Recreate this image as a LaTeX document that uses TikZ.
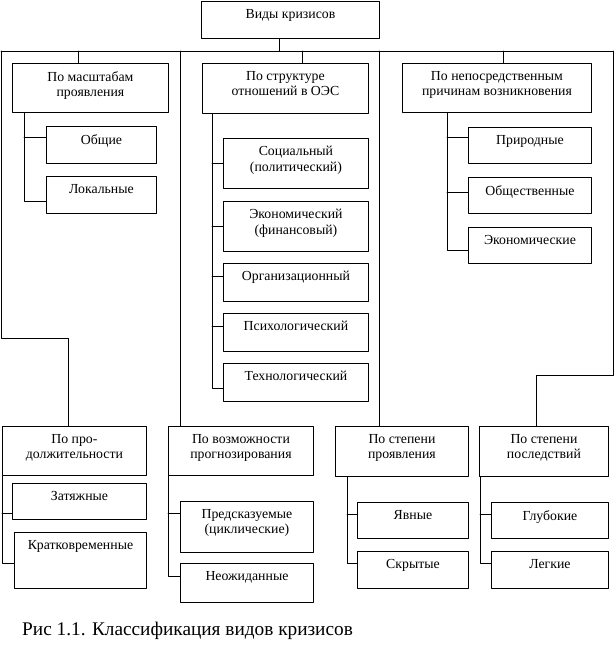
\documentclass[tikz,border=0pt]{standalone}
\usepackage{fontspec}
\setmainfont{Liberation Serif}
\usepackage{tikz}
\usetikzlibrary{positioning}

\tikzset{
  kbox/.style={draw,line width=0.9pt,inner sep=0pt,anchor=north west},
  ktxt/.style={inner sep=0pt,align=center,font=\fontsize{13.8}{15.5}\selectfont},
  kline/.style={line width=0.9pt}
}

\begin{document}
\begin{tikzpicture}[line cap=round,line join=round,x=1pt,y=-1pt]
\useasboundingbox (0,0) rectangle (614,651);
% main box
\node[kbox,minimum width=178pt,minimum height=37pt] (kr) at (201,1) {};
\node[ktxt,below=8pt of kr.north] (kr-t) {Виды кризисов};
% upper row
\node[kbox,minimum width=156pt,minimum height=49pt] (m1) at (12,63) {};
\node[ktxt,below=8pt of m1.north] (m1-t) {По масштабам\\проявления};
\node[kbox,minimum width=166pt,minimum height=50pt] (m2) at (202,63) {};
\node[ktxt,below=8pt of m2.north] (m2-t) {По структуре\\отношений в ОЭС};
\node[kbox,minimum width=189pt,minimum height=49pt] (m3) at (402,63) {};
\node[ktxt,below=8pt of m3.north] (m3-t) {По непосредственным\\причинам возникновения};
% sub boxes of m1
\node[kbox,minimum width=110pt,minimum height=37pt] (a1) at (46,126) {};
\node[ktxt,below=8pt of a1.north] (a1-t) {Общие};
\node[kbox,minimum width=110pt,minimum height=37pt] (a2) at (46,176) {};
\node[ktxt,below=8pt of a2.north] (a2-t) {Локальные};
% sub boxes of m2
\node[kbox,minimum width=145pt,minimum height=50pt] (b1) at (223,138) {};
\node[ktxt,below=8pt of b1.north] (b1-t) {Социальный\\(политический)};
\node[kbox,minimum width=145pt,minimum height=50pt] (b2) at (223,201) {};
\node[ktxt,below=8pt of b2.north] (b2-t) {Экономический\\(финансовый)};
\node[kbox,minimum width=145pt,minimum height=38pt] (b3) at (223,263) {};
\node[ktxt,below=8pt of b3.north] (b3-t) {Организационный};
\node[kbox,minimum width=145pt,minimum height=38pt] (b4) at (223,313) {};
\node[ktxt,below=8pt of b4.north] (b4-t) {Психологический};
\node[kbox,minimum width=145pt,minimum height=38pt] (b5) at (223,363) {};
\node[ktxt,below=8pt of b5.north] (b5-t) {Технологический};
% sub boxes of m3
\node[kbox,minimum width=123pt,minimum height=36pt] (c1) at (468,127) {};
\node[ktxt,below=8pt of c1.north] (c1-t) {Природные};
\node[kbox,minimum width=123pt,minimum height=36pt] (c2) at (468,177) {};
\node[ktxt,below=8pt of c2.north] (c2-t) {Общественные};
\node[kbox,minimum width=123pt,minimum height=36pt] (c3) at (468,227) {};
\node[ktxt,below=8pt of c3.north] (c3-t) {Экономические};
% lower row
\node[kbox,minimum width=144pt,minimum height=49pt] (n1) at (2,426) {};
\node[ktxt,below=8pt of n1.north] (n1-t) {По про-\\должительности};
\node[kbox,minimum width=145pt,minimum height=49pt] (n2) at (168,426) {};
\node[ktxt,below=8pt of n2.north] (n2-t) {По возможности\\прогнозирования};
\node[kbox,minimum width=133pt,minimum height=50pt] (n3) at (335,426) {};
\node[ktxt,below=8pt of n3.north] (n3-t) {По степени\\проявления};
\node[kbox,minimum width=129pt,minimum height=50pt] (n4) at (479,426) {};
\node[ktxt,below=8pt of n4.north] (n4-t) {По степени\\последствий};
% sub boxes of lower row
\node[kbox,minimum width=134pt,minimum height=36pt] (d1) at (12,483) {};
\node[ktxt,below=8pt of d1.north] (d1-t) {Затяжные};
\node[kbox,minimum width=132pt,minimum height=56pt] (d2) at (14,532) {};
\node[ktxt,below=8pt of d2.north] (d2-t) {Кратковременные};
\node[kbox,minimum width=133pt,minimum height=51pt] (e1) at (180,501) {};
\node[ktxt,below=8pt of e1.north] (e1-t) {Предсказуемые\\(циклические)};
\node[kbox,minimum width=133pt,minimum height=39pt] (e2) at (180,563) {};
\node[ktxt,below=8pt of e2.north] (e2-t) {Неожиданные};
\node[kbox,minimum width=111pt,minimum height=36pt] (f1) at (357,502) {};
\node[ktxt,below=8pt of f1.north] (f1-t) {Явные};
\node[kbox,minimum width=111pt,minimum height=37pt] (f2) at (357,551) {};
\node[ktxt,below=8pt of f2.north] (f2-t) {Скрытые};
\node[kbox,minimum width=117pt,minimum height=36pt] (g1) at (491,502) {};
\node[ktxt,below=8pt of g1.north] (g1-t) {Глубокие};
\node[kbox,minimum width=117pt,minimum height=37pt] (g2) at (491,551) {};
\node[ktxt,below=8pt of g2.north] (g2-t) {Легкие};
% caption
\node[inner sep=0pt,anchor=base west,font=\fontsize{19.3}{22}\selectfont] (cap) at (22,635) {Рис 1.1. Классификация видов кризисов};

% bus
\coordinate (bus-l) at (1,51);
\coordinate (bus-r) at (613,51);
\coordinate (kr-j) at (279,51);
\coordinate (m1-j) at (78,51);
\coordinate (m2-j) at (302,51);
\coordinate (m3-j) at (503,51);
\draw[kline] (bus-l) -- (bus-r);
\draw[kline] (kr.south -| kr-j) -- (kr-j);
\draw[kline] (m1-j) -- (m1.north -| m1-j);
\draw[kline] (m2-j) -- (m2.north -| m2-j);
\draw[kline] (m3-j) -- (m3.north -| m3-j);
% down to lower row
\coordinate (n1-k) at (1,338);
\coordinate (n1-j) at (68,338);
\coordinate (n2-j) at (180,51);
\coordinate (n3-j) at (379,51);
\coordinate (n4-k) at (613,375);
\coordinate (n4-j) at (536,375);
\draw[kline] (bus-l) -- (n1-k) -- (n1-j) -- (n1.north -| n1-j);
\draw[kline] (n2-j) -- (n2.north -| n2-j);
\draw[kline] (n3-j) -- (n3.north -| n3-j);
\draw[kline] (bus-r) -- (n4-k) -- (n4-j) -- (n4.north -| n4-j);
% spines, upper row
\coordinate (a1-j) at (24,137);
\coordinate (a2-j) at (24,201);
\draw[kline] (m1.south -| a2-j) -- (a2-j) -- (a2.west |- a2-j);
\draw[kline] (a1-j) -- (a1.west |- a1-j);
\coordinate (b1-j) at (212,163);
\coordinate (b2-j) at (212,226);
\coordinate (b3-j) at (212,276);
\coordinate (b4-j) at (212,326);
\coordinate (b5-j) at (212,388);
\draw[kline] (m2.south -| b5-j) -- (b5-j) -- (b5.west |- b5-j);
\draw[kline] (b1-j) -- (b1.west |- b1-j);
\draw[kline] (b2-j) -- (b2.west |- b2-j);
\draw[kline] (b3-j) -- (b3.west |- b3-j);
\draw[kline] (b4-j) -- (b4.west |- b4-j);
\coordinate (c1-j) at (447,137);
\coordinate (c2-j) at (447,192);
\coordinate (c3-j) at (447,250);
\draw[kline] (m3.south -| c3-j) -- (c3-j) -- (c3.west |- c3-j);
\draw[kline] (c1-j) -- (c1.west |- c1-j);
\draw[kline] (c2-j) -- (c2.west |- c2-j);
% spines, lower row
\coordinate (d1-j) at (2,513);
\coordinate (d2-j) at (2,563);
\draw[kline] (n1.south -| d2-j) -- (d2-j) -- (d2.west |- d2-j);
\draw[kline] (d1-j) -- (d1.west |- d1-j);
\coordinate (e1-j) at (168,513);
\coordinate (e2-j) at (168,576);
\draw[kline] (n2.south -| e2-j) -- (e2-j) -- (e2.west |- e2-j);
\draw[kline] (e1-j) -- (e1.west |- e1-j);
\coordinate (f1-j) at (347,514);
\coordinate (f2-j) at (347,563);
\draw[kline] (n3.south -| f2-j) -- (f2-j) -- (f2.west |- f2-j);
\draw[kline] (f1-j) -- (f1.west |- f1-j);
\coordinate (g1-j) at (480,514);
\coordinate (g2-j) at (480,563);
\draw[kline] (n4.south -| g2-j) -- (g2-j) -- (g2.west |- g2-j);
\draw[kline] (g1-j) -- (g1.west |- g1-j);
\end{tikzpicture}
\end{document}
